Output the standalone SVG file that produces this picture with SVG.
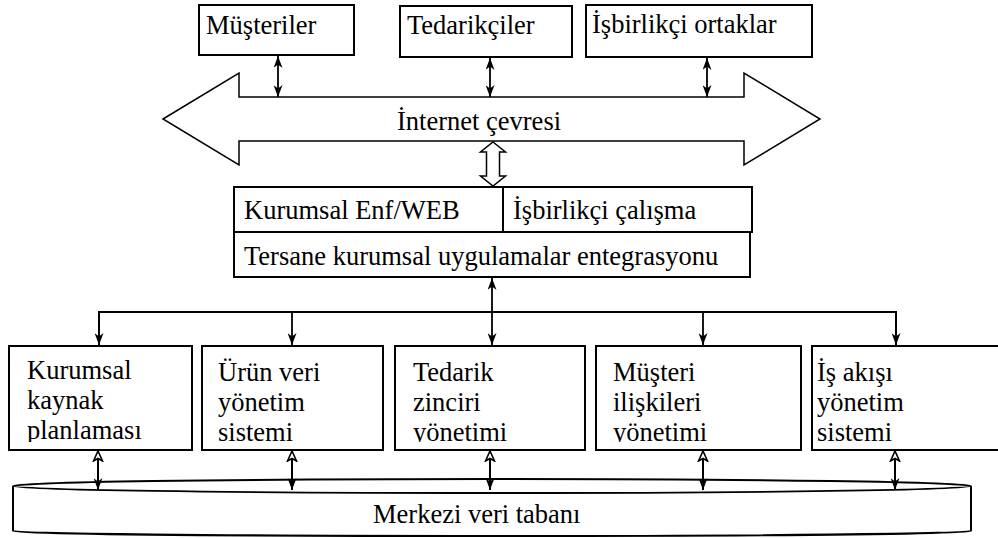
<svg xmlns="http://www.w3.org/2000/svg" width="998" height="538" viewBox="0 0 998 538">
  <style>
    .box { fill: #fff; stroke: #000; stroke-width: 2; }
    .thin { fill: #fff; stroke: #000; stroke-width: 1.5; }
    .lbl { font-family: "Liberation Serif", "Times New Roman", serif; font-size: 26.5px; fill: #000; }
    .wire { fill: none; stroke: #000; stroke-width: 2; }
    .link { fill: none; stroke: #000; stroke-width: 1.8; }
  </style>
  <defs>
    <marker id="tip" viewBox="0 0 12 9" refX="12" refY="4.5" markerWidth="12" markerHeight="9" markerUnits="userSpaceOnUse" orient="auto-start-reverse">
      <path d="M0,0 L12,4.5 L0,9 L3.5,4.5 z" fill="#000"/>
    </marker>
    <marker id="open" viewBox="0 0 12 12" refX="11" refY="6" markerWidth="12" markerHeight="12" markerUnits="userSpaceOnUse" orient="auto-start-reverse">
      <path d="M1,1.5 L11,6 L1,10.5 L3.5,6 z" fill="#fff" stroke="#000" stroke-width="1.6"/>
    </marker>
    <clipPath id="cellClip">
      <rect x="0" y="340" width="998" height="102"/>
    </clipPath>
  </defs>

  <!-- external parties -->
  <g id="musteriler">
    <rect class="box" x="199" y="5" width="155" height="50"/>
    <text class="lbl" x="206" y="34">Müşteriler</text>
  </g>
  <g id="tedarikciler">
    <rect class="box" x="400" y="6" width="172" height="51"/>
    <text class="lbl" x="407" y="34">Tedarikçiler</text>
  </g>
  <g id="ortaklar">
    <rect class="box" x="586" y="5" width="226" height="52"/>
    <text class="lbl" x="592" y="33">İşbirlikçi ortaklar</text>
  </g>

  <!-- internet band -->
  <g id="internet">
    <polygon class="thin" points="163,119 239,73 239,97 744,97 744,73 820,119 744,165 744,141 239,141 239,165"/>
    <text class="lbl" x="397" y="130">İnternet çevresi</text>
  </g>

  <!-- portal / integration block -->
  <g id="portal">
    <rect class="box" x="234" y="187" width="518" height="45"/>
    <line class="wire" x1="503" y1="187" x2="503" y2="232"/>
    <text class="lbl" x="244" y="219">Kurumsal Enf/WEB</text>
    <text class="lbl" x="513" y="219">İşbirlikçi çalışma</text>
  </g>
  <g id="entegrasyon">
    <rect class="box" x="234" y="232" width="516" height="45"/>
    <text class="lbl" x="244" y="265">Tersane kurumsal uygulamalar entegrasyonu</text>
  </g>

  <!-- application systems -->
  <g id="erp">
    <rect class="box" x="9" y="346" width="183" height="104"/>
    <g clip-path="url(#cellClip)">
      <text class="lbl" x="27" y="379">Kurumsal</text>
      <text class="lbl" x="27" y="409">kaynak</text>
      <text class="lbl" x="27" y="439">planlaması</text>
    </g>
  </g>
  <g id="pdm">
    <rect class="box" x="202" y="346" width="181" height="104"/>
    <g clip-path="url(#cellClip)">
      <text class="lbl" x="218" y="381">Ürün veri</text>
      <text class="lbl" x="218" y="411">yönetim</text>
      <text class="lbl" x="218" y="441">sistemi</text>
    </g>
  </g>
  <g id="scm">
    <rect class="box" x="395" y="346" width="190" height="104"/>
    <g clip-path="url(#cellClip)">
      <text class="lbl" x="413" y="381">Tedarik</text>
      <text class="lbl" x="413" y="411">zinciri</text>
      <text class="lbl" x="413" y="441">yönetimi</text>
    </g>
  </g>
  <g id="crm">
    <rect class="box" x="596" y="346" width="205" height="104"/>
    <g clip-path="url(#cellClip)">
      <text class="lbl" x="613" y="381">Müşteri</text>
      <text class="lbl" x="613" y="411">ilişkileri</text>
      <text class="lbl" x="613" y="441">yönetimi</text>
    </g>
  </g>
  <g id="workflow">
    <rect class="box" x="812" y="346" width="200" height="104"/>
    <g clip-path="url(#cellClip)">
      <text class="lbl" x="817" y="381">İş akışı</text>
      <text class="lbl" x="817" y="411">yönetim</text>
      <text class="lbl" x="817" y="441">sistemi</text>
    </g>
  </g>

  <!-- central database -->
  <g id="veritabani">
    <path class="box" d="M13,486 A479,7 0 0 1 971,486 L971,531 A479,5 0 0 1 13,531 Z"/>
    <path class="link" d="M13,486 A479,7 0 0 0 971,486"/>
    <text class="lbl" x="373" y="523">Merkezi veri tabanı</text>
  </g>

  <!-- connectors -->
  <g id="connectors">
    <line class="link" x1="278" y1="56" x2="278" y2="97" marker-start="url(#tip)" marker-end="url(#tip)"/>
    <line class="link" x1="490" y1="58" x2="490" y2="97" marker-start="url(#tip)" marker-end="url(#tip)"/>
    <line class="link" x1="707" y1="58" x2="707" y2="97" marker-start="url(#tip)" marker-end="url(#tip)"/>

    <polygon class="thin" points="493,142 505.5,152 499.5,152 499.5,176 505.5,176 493,186 480.5,176 486.5,176 486.5,152 480.5,152"/>

    <line class="link" x1="492" y1="278" x2="492" y2="345" marker-start="url(#tip)" marker-end="url(#tip)"/>
    <polyline class="wire" points="99,345 99,312 896,312 896,345"/>
    <line class="link" x1="99" y1="312" x2="99" y2="345" marker-end="url(#tip)"/>
    <line class="link" x1="292" y1="312" x2="292" y2="345" marker-end="url(#tip)"/>
    <line class="link" x1="703" y1="312" x2="703" y2="345" marker-end="url(#tip)"/>
    <line class="link" x1="896" y1="312" x2="896" y2="345" marker-end="url(#tip)"/>

    <line class="wire" x1="98" y1="451" x2="98" y2="490" marker-start="url(#open)" marker-end="url(#tip)"/>
    <line class="wire" x1="292" y1="451" x2="292" y2="490" marker-start="url(#open)" marker-end="url(#tip)"/>
    <line class="wire" x1="490" y1="451" x2="490" y2="490" marker-start="url(#open)" marker-end="url(#tip)"/>
    <line class="wire" x1="703" y1="451" x2="703" y2="490" marker-start="url(#open)" marker-end="url(#tip)"/>
    <line class="wire" x1="895" y1="451" x2="895" y2="490" marker-start="url(#open)" marker-end="url(#tip)"/>
  </g>
</svg>
